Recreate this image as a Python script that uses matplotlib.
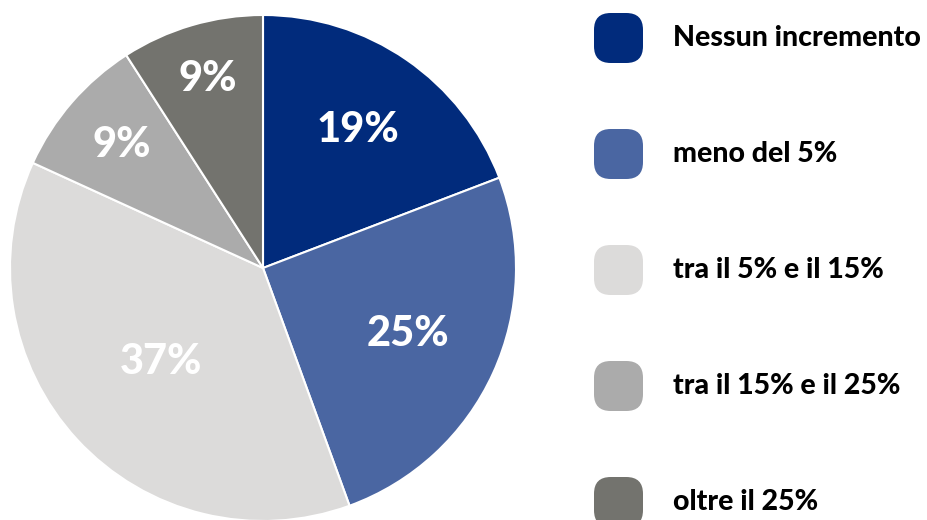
import numpy as np
import matplotlib
matplotlib.use('Agg')
import matplotlib.pyplot as plt
from matplotlib.patches import FancyBboxPatch

# 데이터
categories = ['Nessun incremento', 'meno del 5%', 'tra il 5% e il 15%',
              'tra il 15% e il 25%', 'oltre il 25%']
values = [19, 25, 37, 9, 9]
colors = ['#012B7C', '#4A66A2', '#DCDBDA', '#ABABAB', '#73736E']
# 라벨 위치 (반지름 비율)
label_r = [0.66, 0.63, 0.55, 0.74, 0.78]

plt.rcParams['font.family'] = ['Lato', 'DejaVu Sans']

fig = plt.figure(figsize=(9.28, 5.2), dpi=100)
W, H = 928, 520

# 파이 영역
cx, cy, R = 263, 268, 253
ax = fig.add_axes([(cx - R) / W, (H - cy - R) / H, 2 * R / W, 2 * R / H])
wedges, _ = ax.pie(values, colors=colors, startangle=90, counterclock=False,
                   radius=1, wedgeprops=dict(edgecolor='white', linewidth=1.5))
ax.set_xlim(-1, 1)
ax.set_ylim(-1, 1)
ax.set_aspect('equal')
ax.axis('off')

for w, v, r in zip(wedges, values, label_r):
    ang = np.deg2rad((w.theta1 + w.theta2) / 2)
    ax.text(r * np.cos(ang), r * np.sin(ang), f'{v}%', color='white',
            fontsize=30, fontweight='black', ha='center', va='center')

# 범례
for i, (lab, col) in enumerate(zip(categories, colors)):
    yc = 38 + i * 116
    box = FancyBboxPatch((594 / W, (H - yc - 25) / H), 49 / W, 50 / H,
                         boxstyle='round,pad=0,rounding_size=0.018',
                         transform=fig.transFigure, facecolor=col,
                         edgecolor='none', mutation_aspect=W / H)
    fig.patches.append(box)
    fig.text(673 / W, (H - yc) / H, lab, fontsize=20.5, fontweight='black',
             color='black', ha='left', va='center')

fig.savefig('out.png', dpi=100)
